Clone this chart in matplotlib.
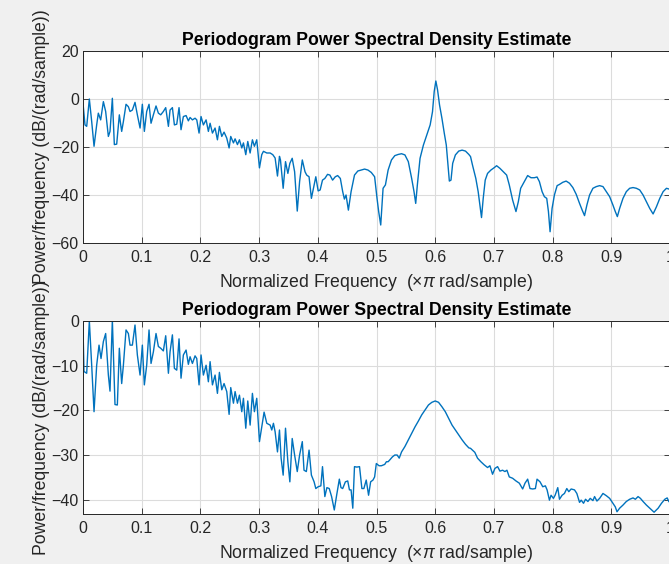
import matplotlib.pyplot as plt
import numpy as np

plt.rcParams['font.family'] = ['Liberation Sans', 'DejaVu Sans']
plt.rcParams['mathtext.fontset'] = 'custom'
plt.rcParams['mathtext.rm'] = 'Liberation Sans'
plt.rcParams['mathtext.it'] = 'Liberation Sans:italic'

# top panel: periodogram (rectangular window)
freq_top = [0.0, 0.0034, 0.0063, 0.0108, 0.0148, 0.0188, 0.0233, 0.0261, 0.0301, 0.0347,
            0.0386, 0.0432, 0.046, 0.05, 0.0534, 0.0574, 0.0619, 0.0659, 0.0688, 0.0733,
            0.0773, 0.0801, 0.0841, 0.0886, 0.0926, 0.0972, 0.1011, 0.1045, 0.1085, 0.1125,
            0.1159, 0.1199, 0.1244, 0.1284, 0.1324, 0.1369, 0.1409, 0.1455, 0.1483, 0.1523,
            0.1557, 0.1597, 0.1636, 0.167, 0.171, 0.1756, 0.1795, 0.1824, 0.1864, 0.1909,
            0.1938, 0.1977, 0.2011, 0.2051, 0.2097, 0.2136, 0.2165, 0.2205, 0.225, 0.229,
            0.2324, 0.2364, 0.2403, 0.2449, 0.2489, 0.2517, 0.2563, 0.2591, 0.2631, 0.2665,
            0.2705, 0.2733, 0.2773, 0.2807, 0.2847, 0.2886, 0.292, 0.296, 0.3006, 0.3045,
            0.3074, 0.3131, 0.3188, 0.3233, 0.3273, 0.3313, 0.3347,
            0.3364, 0.341, 0.345, 0.349, 0.3524, 0.3564, 0.3605, 0.365, 0.369, 0.3736,
            0.3782, 0.3811, 0.3851, 0.3891, 0.3926, 0.3966, 0.4006, 0.404, 0.408, 0.412,
            0.4166, 0.4206, 0.4252, 0.4298, 0.4338, 0.4384, 0.4424, 0.4453, 0.4481, 0.4521,
            0.4567, 0.4625, 0.4682, 0.4739, 0.4797, 0.4854, 0.4911, 0.4968, 0.5009, 0.5037,
            0.5072, 0.5112, 0.5152, 0.5198, 0.5255, 0.5312, 0.537, 0.5427, 0.5484, 0.5542,
            0.5599, 0.5639, 0.5668, 0.5696, 0.5742, 0.5799, 0.5857, 0.5914, 0.5954, 0.5983,
            0.6011, 0.604, 0.6074, 0.6115, 0.6155, 0.6189, 0.6218, 0.6241, 0.6269, 0.6298,
            0.6344, 0.6401, 0.6458, 0.6516, 0.6573, 0.6602,
            0.6635, 0.6692, 0.6732, 0.6761, 0.6789, 0.6818, 0.6852, 0.6892, 0.6949, 0.7006,
            0.7046, 0.7103, 0.716, 0.7217, 0.7262, 0.7319, 0.7376, 0.7416, 0.7456, 0.7519,
            0.7575, 0.7632, 0.7689, 0.7735, 0.7775, 0.7821, 0.786, 0.79, 0.7929, 0.7957,
            0.7991, 0.8031, 0.8077, 0.8117, 0.8174, 0.8231, 0.8288, 0.8345, 0.8402, 0.8459,
            0.8504, 0.8544, 0.8584, 0.863, 0.8687, 0.8744, 0.8801, 0.8858, 0.8915, 0.8972,
            0.9028, 0.9068, 0.9103, 0.9142, 0.9199, 0.9256, 0.9313, 0.937, 0.9427, 0.9484,
            0.9541, 0.9598, 0.9655, 0.9712, 0.9769, 0.9826, 0.9883, 0.994, 0.998]
psd_top = [-1.8, -10.8, -11.4, 0.0, -9.4, -19.7, -10.8, -5.9, -8.7, -1.1,
           -5.2, -15.6, -13.5, 0.3, -19.0, -18.8, -6.6, -13.5, -9.4, -2.2,
           -3.2, -5.2, -4.6, -1.4, -6.6, -12.1, -2.2, -13.5, -5.2, -2.2,
           -10.1, -6.6, -2.9, -5.9, -6.6, -5.2, -3.6, -11.4, -4.6, -3.6,
           -10.8, -10.5, -3.6, -12.8, -7.3, -6.9, -9.1, -7.7, -8.7, -8.0,
           -8.7, -14.2, -7.3, -10.8, -8.7, -13.5, -10.1, -14.2, -12.1, -17.0,
           -11.4, -15.6, -13.8, -16.3, -20.4, -15.6, -18.3, -16.6, -19.0, -17.0,
           -20.4, -18.3, -23.2, -17.7, -22.5, -17.0, -19.7, -17.0, -28.7, -23.2,
           -21.8, -22.5, -22.5, -23.2, -24.6, -32.1, -23.9,
           -25.4, -37.2, -26.1, -31.0, -26.8, -24.7, -30.3, -46.7, -34.4, -25.4,
           -30.3, -31.7, -32.4, -41.4, -37.2, -32.4, -38.3, -37.9, -33.8, -33.1,
           -31.4, -31.7, -33.8, -32.4, -31.9, -33.1, -38.6, -41.7, -40.0, -46.3,
           -38.6, -31.7, -30.0, -29.6, -29.2, -29.6, -30.6, -32.4, -41.4, -46.9,
           -52.5, -37.2, -35.8, -29.6, -25.4, -23.6, -23.1, -22.8, -23.3, -26.1,
           -33.1, -38.6, -43.5, -35.8, -24.7, -19.2, -15.0, -10.8, -5.3, 3.1,
           7.5, 3.8, -2.5, -8.1, -14.3, -19.2, -27.5, -34.2, -33.8, -26.8,
           -23.3, -21.7, -21.3, -21.7, -23.1, -24.0,
           -27.5, -33.1, -38.6, -44.2, -49.4, -41.4, -33.8, -31.0, -29.6, -28.6,
           -27.8, -28.9, -30.3, -31.7, -35.8, -42.1, -46.9, -42.8, -37.2, -34.4,
           -31.9, -32.8, -32.8, -32.5, -34.4, -38.6, -40.7, -41.4, -46.9, -55.3,
           -45.6, -40.0, -36.1, -35.6, -34.7, -34.2, -35.1, -36.9, -39.7, -43.5,
           -46.3, -48.6, -44.2, -40.0, -37.2, -36.5, -36.1, -36.5, -38.6, -40.7,
           -44.2, -46.9, -49.0, -45.6, -41.4, -38.6, -37.2, -36.9, -37.2, -37.9,
           -40.0, -42.8, -45.6, -47.9, -44.9, -41.4, -38.6, -37.2, -37.5]

# bottom panel: periodogram with a tapered window
freq_bot = [0.0, 0.0017, 0.0063, 0.0108, 0.0148, 0.0188, 0.0233, 0.0273, 0.0307, 0.0347,
            0.0386, 0.0432, 0.046, 0.05, 0.0545, 0.0585, 0.0619, 0.0659, 0.0688, 0.0733,
            0.0773, 0.0801, 0.0841, 0.0886, 0.0926, 0.0972, 0.1011, 0.1045, 0.1085, 0.1125,
            0.1159, 0.1199, 0.1244, 0.1284, 0.1324, 0.1369, 0.1409, 0.1455, 0.1483, 0.1523,
            0.1557, 0.1597, 0.1636, 0.167, 0.171, 0.1756, 0.1795, 0.1824, 0.1864, 0.1909,
            0.1938, 0.1977, 0.2011, 0.2051, 0.2097, 0.2136, 0.2165, 0.2205, 0.225, 0.229,
            0.2324, 0.2364, 0.2403, 0.2449, 0.2489, 0.2517, 0.2563, 0.2591, 0.2631, 0.2665,
            0.2705, 0.2733, 0.2773, 0.2807, 0.2847, 0.2886, 0.292, 0.296, 0.3006, 0.3045,
            0.3085, 0.3131, 0.3188, 0.3216, 0.3244, 0.3273, 0.3313, 0.3347,
            0.3375, 0.341, 0.345, 0.349, 0.3524, 0.3564, 0.3605, 0.365, 0.369, 0.3736,
            0.3765, 0.3805, 0.3851, 0.3891, 0.3937, 0.3966, 0.4006, 0.4052, 0.408, 0.412,
            0.4155, 0.4195, 0.4235, 0.4281, 0.4321, 0.4367, 0.4395, 0.4424, 0.447, 0.451,
            0.4539, 0.4567, 0.4596, 0.4625, 0.4665, 0.4711, 0.4751, 0.4785, 0.4825, 0.4865,
            0.49, 0.494, 0.4968, 0.4997, 0.5043, 0.5083, 0.514, 0.5169, 0.5198, 0.5226,
            0.5272, 0.5312, 0.5352, 0.5387, 0.5427, 0.5484, 0.5542, 0.5599, 0.5656, 0.5713,
            0.5771, 0.5828, 0.5885, 0.5943, 0.6, 0.6057, 0.6115, 0.6172, 0.6229, 0.6287,
            0.6344, 0.6401, 0.6458, 0.6516, 0.6573, 0.6602,
            0.6635, 0.6675, 0.6721, 0.6778, 0.6835, 0.6892, 0.6932, 0.6977, 0.7017, 0.7063,
            0.7103, 0.7148, 0.7188, 0.7222, 0.7262, 0.7319, 0.7376, 0.7433, 0.749, 0.753,
            0.7575, 0.7615, 0.7661, 0.7707, 0.7735, 0.7786, 0.7832, 0.7877, 0.7906, 0.7946,
            0.7974, 0.8014, 0.8043, 0.8088, 0.8117, 0.8162, 0.8202, 0.8242, 0.8276, 0.8316,
            0.8373, 0.8413, 0.8459, 0.8487, 0.8527, 0.8561, 0.8601, 0.8641, 0.8687, 0.8715,
            0.8755, 0.8801, 0.8858, 0.8915, 0.8972, 0.9028, 0.9068, 0.9097, 0.9142, 0.9199,
            0.9256, 0.9313, 0.937, 0.941, 0.9456, 0.9496, 0.9541, 0.9598, 0.9655, 0.9729,
            0.9798, 0.9855, 0.9912, 0.9952, 0.998]
psd_bot = [-1.6, -11.3, -11.7, 0.0, -9.9, -20.3, -9.9, -5.4, -8.4, -4.6,
           -2.8, -12.1, -15.7, 0.2, -18.7, -18.8, -6.1, -14.0, -9.9, -2.0,
           -2.8, -5.4, -5.4, -0.9, -7.6, -12.1, -5.4, -14.3, -9.9, -2.0,
           -9.5, -6.9, -2.8, -5.7, -6.1, -6.7, -3.3, -11.7, -6.9, -3.1,
           -10.6, -11.0, -4.0, -12.8, -7.6, -6.5, -9.7, -8.0, -9.5, -7.8,
           -8.4, -14.3, -7.6, -12.1, -9.9, -13.6, -9.1, -14.3, -12.1, -16.2,
           -11.5, -15.4, -14.0, -15.8, -20.9, -14.9, -18.4, -15.8, -18.4, -16.6,
           -20.3, -17.3, -24.0, -17.9, -23.3, -16.2, -20.3, -17.3, -27.0, -23.7,
           -20.4, -22.9, -23.3, -24.4, -22.9, -24.8, -29.3, -24.4,
           -30.7, -34.5, -24.0, -31.5, -36.0, -26.3, -30.0, -33.7, -30.0, -27.0,
           -33.4, -33.7, -28.9, -34.5, -36.0, -37.5, -37.1, -36.9, -32.6, -39.3,
           -37.3, -37.5, -39.3, -42.3, -39.0, -35.4, -37.3, -37.5, -36.0, -35.8,
           -37.8, -37.8, -41.9, -32.6, -32.7, -32.6, -37.5, -37.5, -35.6, -39.0,
           -36.0, -35.6, -34.9, -31.9, -32.4, -32.4, -32.1, -31.5, -31.5, -31.1,
           -30.4, -30.0, -30.0, -30.7, -29.3, -28.1, -26.6, -25.1, -23.7, -22.4,
           -21.0, -19.9, -18.8, -18.2, -17.9, -18.2, -19.2, -20.3, -21.8, -23.3,
           -24.4, -25.5, -26.6, -27.6, -28.4, -28.5,
           -28.9, -29.4, -30.7, -31.5, -32.2, -32.8, -32.4, -34.3, -33.0, -32.6,
           -33.6, -33.4, -33.7, -33.4, -34.9, -35.2, -35.8, -36.3, -37.6, -36.3,
           -35.4, -37.5, -37.6, -37.5, -35.4, -36.0, -37.1, -36.9, -37.8, -40.1,
           -39.0, -39.7, -39.0, -37.3, -39.9, -39.0, -38.6, -37.5, -38.2, -37.6,
           -37.8, -38.6, -40.6, -40.1, -40.8, -39.9, -40.4, -39.7, -40.2, -39.3,
           -40.3, -39.7, -38.6, -39.1, -39.7, -40.8, -41.6, -42.7, -41.9, -41.2,
           -40.4, -39.9, -39.6, -39.9, -39.3, -39.7, -40.4, -41.2, -41.9, -42.8,
           -41.9, -40.8, -39.9, -39.6, -40.4]

title = 'Periodogram Power Spectral Density Estimate'
xlab = r'Normalized Frequency  ($\times\pi$ rad/sample)'
ylab = 'Power/frequency (dB/(rad/sample))'
xticks = np.arange(0, 1.01, 0.1)
xticklabels = ['0', '0.1', '0.2', '0.3', '0.4', '0.5', '0.6', '0.7', '0.8', '0.9', '1']

dark = '#262626'
fig = plt.figure(figsize=(6.69, 5.64), dpi=100, facecolor='#f0f0f0')
ax1 = fig.add_axes([83/669, 1-243/564, 587/669, 192/564])
ax2 = fig.add_axes([83/669, 1-514/564, 587/669, 193/564])


def style(ax, ylim, yticks):
    ax.set_facecolor('white')
    ax.set_xlim(0, 1)
    ax.set_ylim(*ylim)
    ax.set_xticks(xticks)
    ax.set_xticklabels(xticklabels)
    ax.set_yticks(yticks)
    ax.grid(True, color='#dcdcdc', linewidth=0.8)
    ax.set_axisbelow(True)
    ax.tick_params(direction='in', top=True, right=True, length=4, width=0.6,
                   colors=dark, labelsize=11.5)
    ax.tick_params(axis='x', pad=5)
    ax.tick_params(axis='y', pad=3)
    for s in ax.spines.values():
        s.set_color(dark)
        s.set_linewidth(0.7)
    ax.set_title(title, fontsize=12.7, fontweight='bold', color='black', pad=4.5)
    ax.set_xlabel(xlab, fontsize=12.7, color=dark, labelpad=5)
    ax.set_ylabel(ylab, fontsize=12.7, color=dark)
    ax.yaxis.set_label_coords(-0.056, 0.5)


ax1.plot(freq_top, psd_top, color='#0072BD', linewidth=1.0)
style(ax1, (-60, 20), [-60, -40, -20, 0, 20])

ax2.plot(freq_bot, psd_bot, color='#0072BD', linewidth=1.0)
style(ax2, (-43.2, 0), [-40, -30, -20, -10, 0])

fig.savefig('out.png', dpi=100, facecolor=fig.get_facecolor())
